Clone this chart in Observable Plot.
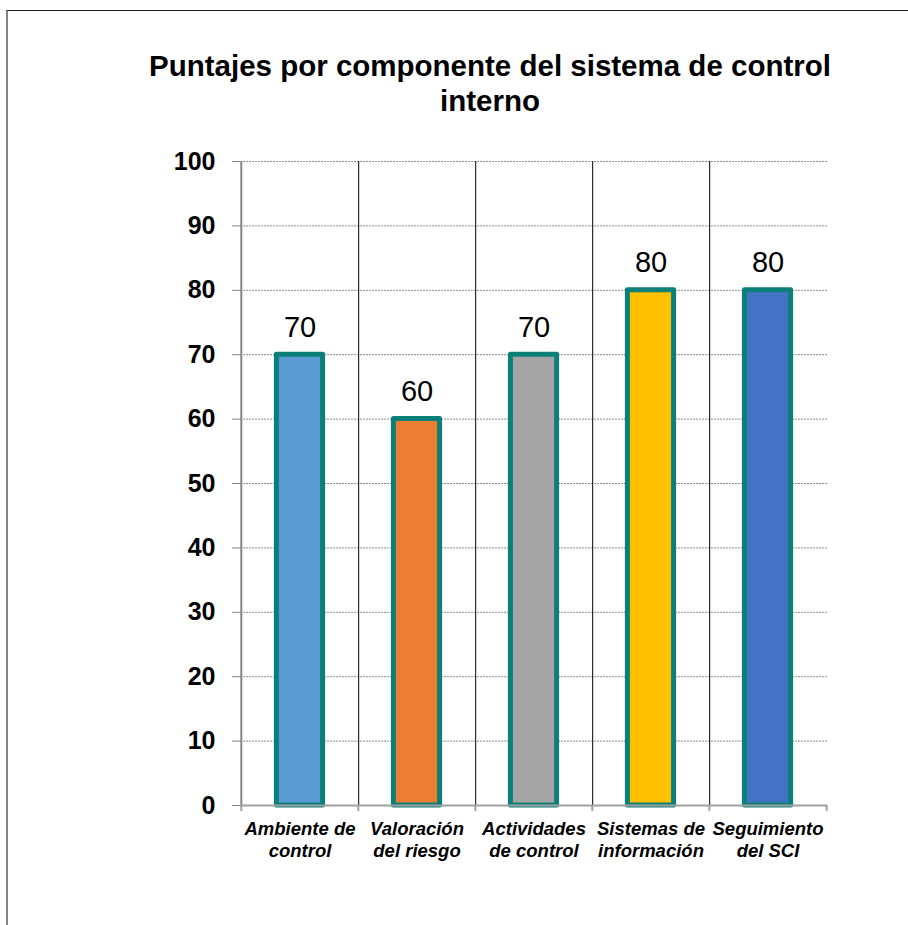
<!DOCTYPE html>
<html>
<head>
<meta charset="utf-8">
<script src="https://cdn.jsdelivr.net/npm/d3@7"></script>
<script src="https://cdn.jsdelivr.net/npm/@observablehq/plot@0.6"></script>
<style>
  html, body { margin: 0; padding: 0; background: #fff; }
  #wrap { position: relative; width: 908px; height: 925px; overflow: hidden; font-family: Arial, "Liberation Sans", sans-serif; }
  #frame { position: absolute; left: 6px; top: 10px; width: 1000px; height: 1000px; border-left: 2px solid #858585; border-top: 1px solid #1a1a1a; box-sizing: border-box; }
  #title { position: absolute; left: 0; width: 980px; top: 48px; text-align: center; font-weight: bold; font-size: 29.5px; line-height: 35px; color: #000; }
  #chart { position: absolute; left: 0; top: 0; }
</style>
</head>
<body>
<div id="wrap">
  <div id="frame"></div>
  <div id="chart"></div>
  <div id="title">Puntajes por componente del sistema de control<br>interno</div>
</div>
<script>
const categories = ["Ambiente de control", "Valoración del riesgo", "Actividades de control", "Sistemas de información", "Seguimiento del SCI"];
const labels = ["Ambiente de\ncontrol", "Valoración\ndel riesgo", "Actividades\nde control", "Sistemas de\ninformación", "Seguimiento\ndel SCI"];
const values = [70, 60, 70, 80, 80];
const colors = ["#5B9BD5", "#ED7D31", "#A5A5A5", "#FFC000", "#4472C4"];
const yTicks = [0, 10, 20, 30, 40, 50, 60, 70, 80, 90, 100];

const data = categories.map((c, i) => ({ name: c, label: labels[i], value: values[i], color: colors[i] }));

const W = 908, H = 925, mL = 240, mR = 81, mT = 161, mB = 120;
const half = (W - mL - mR) / categories.length / 2;

const chart = Plot.plot({
  width: W,
  height: H,
  marginLeft: mL,
  marginRight: mR,
  marginTop: mT,
  marginBottom: mB,
  style: { fontFamily: "Arial, 'Liberation Sans', sans-serif", background: "transparent" },
  x: { type: "band", domain: categories, padding: 0, axis: null },
  y: { domain: [0, 100], axis: null, label: null },
  marks: [
    Plot.gridY(yTicks.slice(1), { stroke: "#8c8c8c", strokeOpacity: 1, strokeDasharray: "2,1" }),
    // category separators (right edge of first four bands)
    Plot.ruleX(categories.slice(0, 4), { x: d => d, dx: half, y1: 0, y2: 100, stroke: "#000", strokeWidth: 1 }),
    // y axis line (left edge)
    Plot.ruleX([categories[0]], { x: d => d, dx: -half, y1: 0, y2: 100, stroke: "#858585", strokeWidth: 2 }),
    // x tick marks below the baseline at band edges
    Plot.ruleX(categories, { x: d => d, dx: -half, y1: 0, y2: 0, insetBottom: -6, stroke: "#a0a0a0", strokeWidth: 2 }),
    Plot.ruleX([categories[4]], { x: d => d, dx: half, y1: 0, y2: 0, insetBottom: -6, stroke: "#a0a0a0", strokeWidth: 2 }),
    Plot.barY(data, { x: "name", y: "value", fill: "color", stroke: "#0a8078", strokeWidth: 5, strokeLinejoin: "round", insetLeft: 35.4, insetRight: 35.4 }),
    // baseline
    Plot.ruleY([0], { stroke: "#a0a0a0", strokeWidth: 2 }),
    Plot.axisY({ ticks: yTicks, label: null, tickSize: 8, tickPadding: 17, fontSize: 25, fontWeight: "bold", stroke: "#858585", tickFormat: d => String(d), color: "#000" }),
    Plot.text(data, { x: "name", y: "value", text: d => String(d.value), lineAnchor: "bottom", dy: -18, fontSize: 29, fill: "#000" }),
    Plot.text(data, { x: "name", y: 0, text: "label", lineAnchor: "top", dy: 14, fontSize: 18.5, fontWeight: "bold", fontStyle: "italic", lineHeight: 1.18, fill: "#000" })
  ]
});
document.getElementById("chart").appendChild(chart);
</script>
</body>
</html>
